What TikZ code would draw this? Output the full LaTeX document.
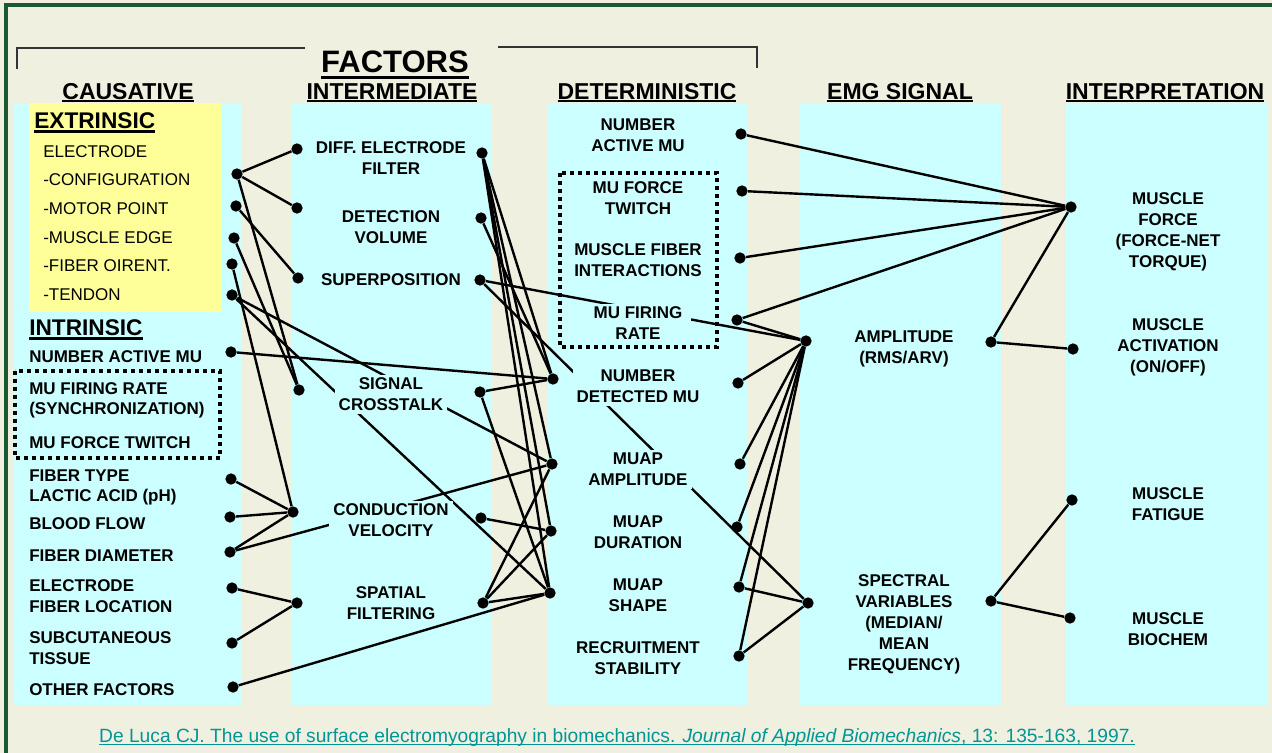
\documentclass[tikz,border=0pt]{standalone}
\usepackage{fontspec}
\setmainfont{Liberation Sans}
\usepackage{tikz}

\definecolor{bgbeige}{RGB}{240,240,224}
\definecolor{colcyan}{RGB}{204,255,255}
\definecolor{extyellow}{RGB}{255,255,153}
\definecolor{framegreen}{RGB}{25,90,50}
\definecolor{citeteal}{RGB}{0,150,150}

% thick underline: depth, thickness, text
\newcommand{\ulbar}[3]{\sbox0{#3}\rlap{\rule[-#1]{\wd0}{#2}}\usebox0}

\begin{document}
\begin{tikzpicture}[x=0.75pt, y=-0.75pt,
    dot/.style={circle, fill=black, inner sep=0pt, minimum size=8.5pt},
    link/.style={line width=1.8pt},
    hdr/.style={font=\fontsize{17.25}{20}\selectfont\bfseries, inner sep=0pt, anchor=base},
    item/.style={font=\fontsize{12.75}{15.75}\selectfont\bfseries, align=center, fill=colcyan, inner xsep=3pt, inner ysep=2.5pt},
    litem/.style={font=\fontsize{12.75}{15.75}\selectfont\bfseries, inner sep=0pt, anchor=base west},
    xitem/.style={font=\fontsize{12.75}{15.75}\selectfont, inner sep=0pt, anchor=base west},
    dotbox/.style={line width=3pt, dash pattern=on 3pt off 3pt}]

    % Background and frame
    \useasboundingbox (0,0) rectangle (1272,753);
    \fill[bgbeige] (0,0) rectangle (1272,753);
    \draw[framegreen, line width=2.6pt] (6,753) -- (6,5) -- (1272,5);

    % Columns
    \fill[colcyan] (14,103) rectangle (242,705);
    \fill[extyellow] (29,103) rectangle (221,312);
    \fill[colcyan] (291,103) rectangle (492,705);
    \fill[colcyan] (548,103) rectangle (748,705);
    \fill[colcyan] (800,103) rectangle (1001,705);
    \fill[colcyan] (1066,103) rectangle (1268,705);

    % Bracket over the factors
    \draw[line width=1.1pt, black!80] (17,69) -- (17,48) -- (305,48);
    \draw[line width=1.1pt, black!80] (498,47) -- (757,47) -- (757,68);

    % Headers
    \node[hdr, font=\fontsize{23.25}{26}\selectfont\bfseries] (factors) at (395,72) {\ulbar{5.4pt}{2.4pt}{FACTORS}};
    \node[hdr] (hcaus) at (128,99) {\ulbar{2.6pt}{1.8pt}{CAUSATIVE}};
    \node[hdr] (hinter) at (392,99) {\ulbar{2.6pt}{1.8pt}{INTERMEDIATE}};
    \node[hdr] (hdet) at (647,99) {\ulbar{2.6pt}{1.8pt}{DETERMINISTIC}};
    \node[hdr] (hemg) at (900,99) {\ulbar{2.6pt}{1.8pt}{EMG SIGNAL}};
    \node[hdr] (hinterp) at (1165,99) {\ulbar{2.6pt}{1.8pt}{INTERPRETATION}};

    % Causative end points
    \node[dot] (cCfg) at (237,174) {};
    \node[dot] (cMot) at (236,206) {};
    \node[dot] (cEdg) at (234,238) {};
    \node[dot] (cOri) at (232,264) {};
    \node[dot] (cTen) at (232,295) {};
    \node[dot] (cNam) at (231,352) {};
    \node[dot] (cTyp) at (231,479) {};
    \node[dot] (cBlo) at (230,517) {};
    \node[dot] (cDia) at (230,552) {};
    \node[dot] (cLoc) at (232,588) {};
    \node[dot] (cSub) at (232,643) {};
    \node[dot] (cOth) at (233,687) {};

    % Intermediate end points
    \node[dot] (iDifL) at (297,149) {};
    \node[dot] (iDetL) at (297,208) {};
    \node[dot] (iSupL) at (298,278) {};
    \node[dot] (iSigL) at (299,390) {};
    \node[dot] (iConL) at (293,512) {};
    \node[dot] (iSpaL) at (297,603) {};
    \node[dot] (iDifR) at (482,153) {};
    \node[dot] (iDetR) at (481,218) {};
    \node[dot] (iSupR) at (480,280) {};
    \node[dot] (iSigR) at (480,392) {};
    \node[dot] (iConR) at (481,518) {};
    \node[dot] (iSpaR) at (483,603) {};

    % Deterministic end points
    \node[dot] (dNdeL) at (553,379) {};
    \node[dot] (dAmpL) at (552,464) {};
    \node[dot] (dDurL) at (551,531) {};
    \node[dot] (dShpL) at (550,593) {};
    \node[dot] (dActR) at (741,134) {};
    \node[dot] (dTwiR) at (742,191) {};
    \node[dot] (dFibR) at (740,258) {};
    \node[dot] (dFirR) at (737,320) {};
    \node[dot] (dNdeR) at (738,383) {};
    \node[dot] (dAmpR) at (740,464) {};
    \node[dot] (dDurR) at (737,527) {};
    \node[dot] (dShpR) at (739,587) {};
    \node[dot] (dRecR) at (739,656) {};

    % EMG signal and interpretation end points
    \node[dot] (eAmpL) at (806,341) {};
    \node[dot] (eAmpR) at (991,342) {};
    \node[dot] (eSpeL) at (808,603) {};
    \node[dot] (eSpeR) at (991,601) {};
    \node[dot] (pFor) at (1071,207) {};
    \node[dot] (pAct) at (1073,349) {};
    \node[dot] (pFat) at (1072,500) {};
    \node[dot] (pBio) at (1070,618) {};

    % Causative -> intermediate / deterministic
    \draw[link] (cCfg) -- (iDifL);
    \draw[link] (cCfg) -- (iDetL);
    \draw[link] (cCfg) -- (iSigL);
    \draw[link] (cMot) -- (iSupL);
    \draw[link] (cEdg) -- (iSigL);
    \draw[link] (cOri) -- (iConL);
    \draw[link] (cTen) -- (dAmpL);
    \draw[link] (cTen) -- (dShpL);
    \draw[link] (cNam) -- (dNdeL);
    \draw[link] (cTyp) -- (iConL);
    \draw[link] (cBlo) -- (iConL);
    \draw[link] (cDia) -- (iConL);
    \draw[link] (cDia) -- (dAmpL);
    \draw[link] (cLoc) -- (iSpaL);
    \draw[link] (cSub) -- (iSpaL);
    \draw[link] (cOth) -- (dShpL);

    % Intermediate -> deterministic / EMG
    \draw[link] (iDifR) -- (dNdeL);
    \draw[link] (iDifR) -- (dAmpL);
    \draw[link] (iDifR) -- (dDurL);
    \draw[link] (iDifR) -- (dShpL);
    \draw[link] (iDetR) -- (dNdeL);
    \draw[link] (iSupR) -- (eAmpL);
    \draw[link] (iSupR) -- (eSpeL);
    \draw[link] (iSigR) -- (dNdeL);
    \draw[link] (iSigR) -- (dShpL);
    \draw[link] (iConR) -- (dDurL);
    \draw[link] (iSpaR) -- (dAmpL);
    \draw[link] (iSpaR) -- (dDurL);
    \draw[link] (iSpaR) -- (dShpL);

    % Deterministic -> EMG signal / interpretation
    \draw[link] (dActR) -- (pFor);
    \draw[link] (dTwiR) -- (pFor);
    \draw[link] (dFibR) -- (pFor);
    \draw[link] (dFirR) -- (pFor);
    \draw[link] (dFirR) -- (eAmpL);
    \draw[link] (dNdeR) -- (eAmpL);
    \draw[link] (dAmpR) -- (eAmpL);
    \draw[link] (dDurR) -- (eAmpL);
    \draw[link] (dShpR) -- (eAmpL);
    \draw[link] (dRecR) -- (eAmpL);
    \draw[link] (dShpR) -- (eSpeL);
    \draw[link] (dRecR) -- (eSpeL);

    % EMG signal -> interpretation
    \draw[link] (eAmpR) -- (pFor);
    \draw[link] (eAmpR) -- (pAct);
    \draw[link] (eSpeR) -- (pFat);
    \draw[link] (eSpeR) -- (pBio);

    % Causative labels
    \node[xitem, font=\fontsize{17}{20}\selectfont\bfseries] (extr) at (34,128) {\ulbar{3.6pt}{1.8pt}{EXTRINSIC}};
    \node[xitem] (tElec) at (43,157) {ELECTRODE};
    \node[xitem] (tCfg) at (43,185) {-CONFIGURATION};
    \node[xitem] (tMot) at (43,214) {-MOTOR POINT};
    \node[xitem] (tEdg) at (43,243) {-MUSCLE EDGE};
    \node[xitem] (tOri) at (43,271) {-FIBER OIRENT.};
    \node[xitem] (tTen) at (43,300) {-TENDON};
    \node[xitem, font=\fontsize{17}{20}\selectfont\bfseries] (intr) at (29,335) {\ulbar{3.6pt}{1.8pt}{INTRINSIC}};
    \node[litem] (tNam) at (29,362) {NUMBER ACTIVE MU};
    \node[litem] (tFir) at (29,394) {MU FIRING RATE};
    \node[litem] (tSyn) at (29,414) {(SYNCHRONIZATION)};
    \node[litem] (tTwi) at (29,448) {MU FORCE TWITCH};
    \node[litem] (tTyp) at (29,481) {FIBER TYPE};
    \node[litem] (tLac) at (29,501) {LACTIC ACID (pH)};
    \node[litem] (tBlo) at (29,529) {BLOOD FLOW};
    \node[litem] (tDia) at (29,561) {FIBER DIAMETER};
    \node[litem] (tElc) at (29,591) {ELECTRODE};
    \node[litem] (tLoc) at (29,612) {FIBER LOCATION};
    \node[litem] (tSub) at (29,643) {SUBCUTANEOUS};
    \node[litem] (tTis) at (29,664) {TISSUE};
    \node[litem] (tOth) at (29,695) {OTHER FACTORS};
    \draw[dotbox] (15,371) rectangle (220,458);

    % Intermediate labels
    \node[item] (tDif) at (391,158.5) {DIFF. ELECTRODE\\FILTER};
    \node[item] (tDet) at (391,227.5) {DETECTION\\VOLUME};
    \node[item] (tSup) at (391,280) {SUPERPOSITION};
    \node[item] (tSig) at (391,394.5) {SIGNAL\\CROSSTALK};
    \node[item] (tCon) at (391,520.5) {CONDUCTION\\VELOCITY};
    \node[item] (tSpa) at (391,603.5) {SPATIAL\\FILTERING};

    % Deterministic labels
    \node[item] (tAct) at (638,135.5) {NUMBER\\ACTIVE MU};
    \node[item] (tFtw) at (638,198.5) {MU FORCE\\TWITCH};
    \node[item] (tFib) at (638,260.5) {MUSCLE FIBER\\INTERACTIONS};
    \node[item, minimum width=80pt] (tRat) at (638,323.5) {MU FIRING\\RATE};
    \node[item] (tNde) at (638,386.5) {NUMBER\\DETECTED MU};
    \node[item] (tAmp) at (638,469.5) {MUAP\\AMPLITUDE};
    \node[item] (tDur) at (638,532.5) {MUAP\\DURATION};
    \node[item] (tShp) at (638,595.5) {MUAP\\SHAPE};
    \node[item] (tRec) at (638,658.5) {RECRUITMENT\\STABILITY};
    \draw[dotbox] (560,173) rectangle (717,347);

    % EMG signal labels
    \node[item] (tRms) at (904,348.5) {AMPLITUDE\\(RMS/ARV)};
    \node[item] (tSpe) at (904,624) {SPECTRAL\\VARIABLES\\(MEDIAN/\\MEAN\\FREQUENCY)};

    % Interpretation labels
    \node[item] (tFor) at (1168,232) {MUSCLE\\FORCE\\(FORCE-NET\\TORQUE)};
    \node[item] (tActv) at (1168,347) {MUSCLE\\ACTIVATION\\(ON/OFF)};
    \node[item] (tFat) at (1168,504) {MUSCLE\\FATIGUE};
    \node[item] (tBio) at (1168,629.5) {MUSCLE\\BIOCHEM};

    % Reference
    \node[font=\fontsize{14.4}{17}\selectfont, text=citeteal, inner sep=0pt, anchor=base] (cite) at (617,742)
        {\ulbar{2.4pt}{1pt}{De Luca CJ. The use of surface electromyography in biomechanics. \textit{Journal of Applied Biomechanics}, 13: 135-163, 1997.}};
\end{tikzpicture}
\end{document}
